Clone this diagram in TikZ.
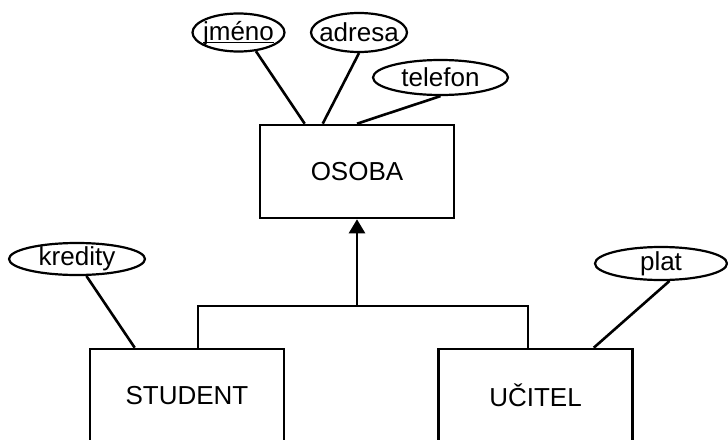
\documentclass[tikz,border=0pt]{standalone}
\usepackage{fontspec}
\setmainfont{Liberation Sans}
\usetikzlibrary{shapes.geometric,arrows.meta,calc}
\begin{document}
\begin{tikzpicture}[x=0.5pt,y=-0.5pt,line width=1.3pt,
	font=\fontsize{13pt}{15pt}\selectfont,
	entity/.style={draw,rectangle,minimum width=97pt,minimum height=46.5pt,inner sep=0pt},
	attr/.style={draw,ellipse,inner xsep=-3pt,inner ysep=-1.5pt,line width=1.1pt}]
		\clip(0,0) rectangle (728,439);
		
		\node[entity] (osoba) at (357,171.5) {OSOBA};
		\node[entity] (student) at (187,395.5) {STUDENT};
		\node[entity] (ucitel) at (535.5,395.5) {UČITEL};
		
		\node[attr][minimum width=46pt,minimum height=19pt] (jmeno) at (238.5,32.5) {\underline{\raisebox{0pt}[\height][0pt]{jméno}}};
		\node[attr][minimum width=48pt,minimum height=19.5pt] (adresa) at (359,32.5) {adresa};
		\node[attr][minimum width=67.5pt,minimum height=17.5pt] (telefon) at (440.5,77.5) {telefon};
		\node[attr][minimum width=68pt,minimum height=16pt] (kredity) at (77,259) {kredity};
		\node[attr][minimum width=66pt,minimum height=16.5pt] (plat) at (661,263.5) {plat};
		
		\draw(jmeno.-47)--($(osoba.north west)+(46,0)$);
		\draw(adresa.south)--($(osoba.north west)+(64,0)$);
		\draw(telefon.south)--(osoba.north);
		\draw(kredity.-61)--($(student.north west)+(46,0)$);
		\draw(plat.-64)--($(ucitel.north east)+(-40,0)$);
		
		\coordinate (isa) at (357,306);
		\draw($(student.north)+(11,0)$) |- (isa) -| ($(ucitel.north)+(-7.5,0)$);
		\draw[-{Triangle[width=8pt,length=7pt]}](isa)--(osoba.south);
	\end{tikzpicture}
\end{document}
